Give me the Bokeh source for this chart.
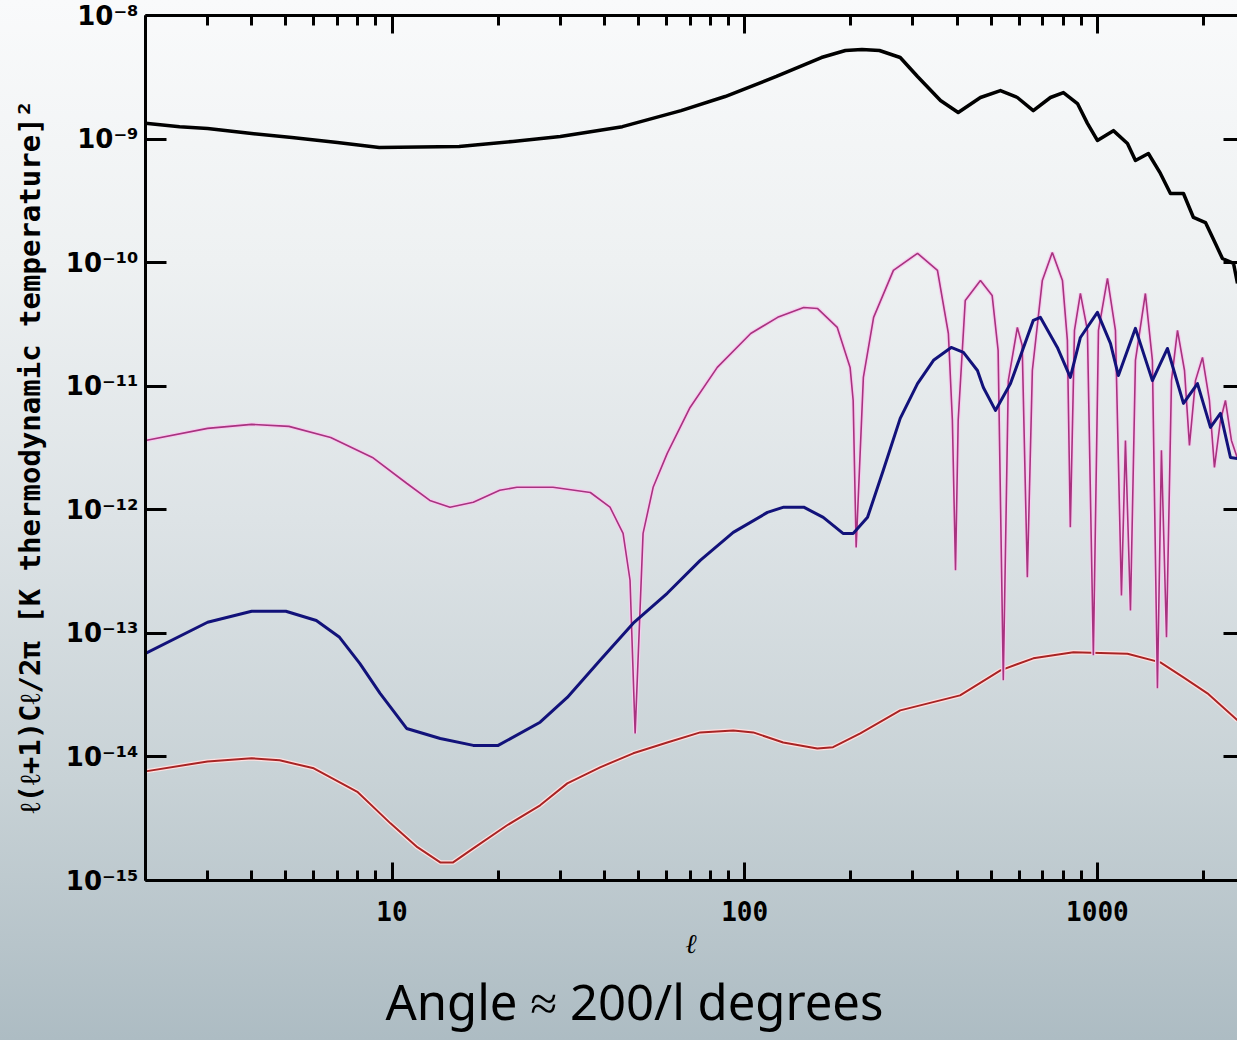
from bokeh.plotting import figure
from bokeh.models import Range1d, LogAxis, FixedTicker, CustomJSTickFormatter, Title
from bokeh.embed import file_html
from bokeh.resources import INLINE

# Angular power spectra, l(l+1)C_l/2pi in K^2
ell_tt = [2, 2.5, 3, 4, 5.2, 7, 9.2, 15.5, 22, 30, 45, 66, 88, 123, 165, 193, 215, 241, 276,
          309, 359, 403, 466, 531, 593, 658, 736, 801, 878, 937, 1000, 1110, 1217, 1282,
          1395, 1509, 1611, 1754, 1872, 2025, 2161, 2262, 2432, 2496]
cl_tt = [1.34e-9, 1.26e-9, 1.22e-9, 1.11e-9, 1.03e-9, 9.39e-10, 8.55e-10, 8.71e-10, 9.57e-10,
         1.05e-9, 1.26e-9, 1.70e-9, 2.21e-9, 3.21e-9, 4.57e-9, 5.21e-9, 5.30e-9, 5.21e-9,
         4.57e-9, 3.21e-9, 2.05e-9, 1.64e-9, 2.17e-9, 2.47e-9, 2.17e-9, 1.70e-9, 2.17e-9,
         2.38e-9, 1.94e-9, 1.34e-9, 9.75e-10, 1.17e-9, 9.21e-10, 6.71e-10, 7.64e-10, 5.27e-10,
         3.63e-10, 3.63e-10, 2.32e-10, 2.11e-10, 1.43e-10, 1.08e-10, 9.86e-11, 6.79e-11]

ell_te = [2, 3, 4, 5.1, 6.7, 8.8, 11, 12.8, 14.6, 17, 20.2, 22.6, 28.6, 36.5, 41.5, 45.2,
          47.3, 48.9, 51.5, 55, 60.3, 70, 83.6, 104, 124, 147, 161, 183, 199, 203, 207, 217,
          232, 264, 309, 352, 378, 388, 396, 403, 422, 466, 503, 523, 541, 559, 593, 612, 633,
          654, 698, 745, 796, 822, 838, 861, 895, 937, 974, 1007, 1068, 1125, 1170, 1201, 1241,
          1282, 1368, 1432, 1480, 1519, 1570, 1622, 1687, 1766, 1824, 1897, 1986, 2078, 2147,
          2233, 2307, 2399, 2496]
cl_te = [3.64e-12, 4.56e-12, 4.91e-12, 4.73e-12, 3.85e-12, 2.65e-12, 1.64e-12, 1.19e-12,
         1.05e-12, 1.15e-12, 1.44e-12, 1.52e-12, 1.52e-12, 1.38e-12, 1.05e-12, 6.44e-13,
         2.69e-13, 1.55e-14, 6.44e-13, 1.52e-12, 2.86e-12, 6.73e-12, 1.42e-11, 2.67e-11,
         3.61e-11, 4.34e-11, 4.25e-11, 2.99e-11, 1.42e-11, 7.67e-12, 4.96e-13, 1.18e-11,
         3.61e-11, 8.65e-11, 1.19e-10, 8.65e-11, 2.67e-11, 5.28e-12, 3.24e-13, 5.30e-12,
         4.94e-11, 7.18e-11, 5.43e-11, 1.95e-11, 4.17e-14, 1.11e-11, 2.99e-11, 2.14e-11,
         2.84e-13, 1.34e-11, 7.18e-11, 1.21e-10, 7.18e-11, 2.35e-11, 7.21e-13, 2.83e-11,
         5.63e-11, 2.83e-11, 6.64e-14, 2.83e-11, 7.45e-11, 2.83e-11, 2.03e-13, 3.64e-12,
         1.53e-13, 1.62e-11, 5.63e-11, 1.62e-11, 3.59e-14, 3.03e-12, 9.29e-14, 1.11e-11,
         2.83e-11, 1.34e-11, 3.32e-12, 1.11e-11, 1.71e-11, 7.67e-12, 2.20e-12, 5.28e-12,
         7.67e-12, 3.64e-12, 2.60e-12]

ell_ee = [2, 3, 4, 5, 6.1, 7.1, 8.1, 9.25, 11, 13.7, 17, 20, 26.3, 31.4, 38.9, 48.3, 60.3,
          74.8, 92.8, 116, 129, 147, 167, 190, 203, 223, 247, 276, 309, 343, 385, 417, 457,
          475, 514, 567, 658, 689, 770, 838, 895, 1000, 1089, 1147, 1282, 1432, 1580, 1754,
          1922, 2092, 2233, 2384, 2496]
cl_ee = [6.89e-14, 1.23e-13, 1.51e-13, 1.51e-13, 1.27e-13, 9.29e-14, 5.72e-14, 3.27e-14,
         1.70e-14, 1.41e-14, 1.24e-14, 1.24e-14, 1.91e-14, 3.03e-14, 6.05e-14, 1.21e-13,
         2.11e-13, 3.90e-13, 6.56e-13, 9.53e-13, 1.05e-12, 1.05e-12, 8.69e-13, 6.44e-13,
         6.44e-13, 8.69e-13, 2.08e-12, 5.49e-12, 1.05e-11, 1.62e-11, 2.06e-11, 1.88e-11,
         1.34e-11, 9.77e-12, 6.37e-12, 1.05e-11, 3.41e-11, 3.61e-11, 2.06e-11, 1.18e-11,
         2.48e-11, 3.96e-11, 2.22e-11, 1.22e-11, 2.94e-11, 1.11e-11, 2.02e-11, 7.26e-12,
         1.05e-11, 4.64e-12, 6.03e-12, 2.65e-12, 2.60e-12]

ell_bb = [2, 3, 4, 4.8, 6, 8, 9.9, 11.8, 13.7, 14.9, 17, 21.2, 26.3, 31.4, 38.9, 48.3, 60.3,
          74.8, 92.8, 105.7, 128.6, 160.6, 178, 212.7, 276, 408, 531, 658, 855, 1217, 1509,
          1754, 2051, 2496]
cl_bb = [7.64e-15, 9.20e-15, 9.75e-15, 9.39e-15, 8.09e-15, 5.18e-15, 2.90e-15, 1.86e-15,
         1.40e-15, 1.40e-15, 1.82e-15, 2.80e-15, 4.06e-15, 6.11e-15, 8.24e-15, 1.07e-14,
         1.31e-14, 1.58e-14, 1.64e-14, 1.58e-14, 1.31e-14, 1.17e-14, 1.20e-14, 1.55e-14,
         2.38e-14, 3.15e-14, 5.02e-14, 6.28e-14, 7.02e-14, 6.85e-14, 5.82e-14, 4.41e-14,
         3.27e-14, 1.98e-14]

x_major = [10, 100, 1000]
x_minor = [2, 3, 4, 5, 6, 7, 8, 9, 20, 30, 40, 50, 60, 70, 80, 90,
           200, 300, 400, 500, 600, 700, 800, 900, 2000]
y_major = [1e-15, 1e-14, 1e-13, 1e-12, 1e-11, 1e-10, 1e-9, 1e-8]

p = figure(width=1237, height=1040, x_axis_type="log", y_axis_type="log",
           x_range=Range1d(2, 2496), y_range=Range1d(1e-15, 1e-8),
           output_backend="svg", toolbar_location=None,
           min_border_left=145, min_border_right=0, min_border_top=15, min_border_bottom=160)
p.border_fill_color = None
p.background_fill_color = None
p.outline_line_color = None
p.grid.visible = False
p.styles = {"background": "linear-gradient(180deg, #f9fafb 0%, #eef1f2 25%, #dde3e6 50%, "
                          "#c8d2d6 75%, #adbcc3 100%)"}

xt = FixedTicker(ticks=x_major, minor_ticks=x_minor)
yt = FixedTicker(ticks=y_major, minor_ticks=[])

sup_js = """
const sup = {"-": "\u207b", "0": "\u2070", "1": "\u00b9", "2": "\u00b2", "3": "\u00b3",
             "4": "\u2074", "5": "\u2075", "6": "\u2076", "7": "\u2077", "8": "\u2078",
             "9": "\u2079"};
const e = Math.round(Math.log10(tick));
return "10" + String(e).split("").map(c => sup[c]).join("");
"""
blank = CustomJSTickFormatter(code="return '';")


def style_axis(ax, tick_len, minor_len):
    ax.axis_line_width = 3
    ax.axis_line_color = "black"
    ax.major_tick_in = tick_len
    ax.major_tick_out = 0
    ax.minor_tick_in = minor_len
    ax.minor_tick_out = 0
    ax.major_tick_line_width = 3
    ax.minor_tick_line_width = 3
    ax.major_tick_line_color = "black"
    ax.minor_tick_line_color = "black"


xa = p.xaxis[0]
xa.ticker = xt
style_axis(xa, 18, 10)
xa.formatter = CustomJSTickFormatter(code="return String(Math.round(tick));")
xa.major_label_text_font = "DejaVu Sans Mono"
xa.major_label_text_font_style = "bold"
xa.major_label_text_font_size = "26px"
xa.major_label_text_color = "black"
xa.major_label_standoff = 20
xa.axis_label = "ℓ"
xa.axis_label_text_font = "DejaVu Serif"
xa.axis_label_text_font_style = "bold italic"
xa.axis_label_text_font_size = "27px"
xa.axis_label_text_color = "black"
xa.axis_label_standoff = 4

ya = p.yaxis[0]
ya.ticker = yt
style_axis(ya, 21, 0)
ya.formatter = CustomJSTickFormatter(code=sup_js)
ya.major_label_text_font = "DejaVu Sans"
ya.major_label_text_font_style = "bold"
ya.major_label_text_font_size = "26px"
ya.major_label_text_color = "black"
ya.major_label_standoff = 7
ya.axis_label = "ℓ(ℓ+1)Cℓ/2π [K thermodynamic temperature]² "
ya.axis_label_text_font = "DejaVu Sans Mono"
ya.axis_label_text_font_style = "bold"
ya.axis_label_text_font_size = "29px"
ya.axis_label_text_color = "black"
ya.axis_label_standoff = 16

top = LogAxis(ticker=xt, formatter=blank, major_label_text_font_size="1px",
              major_label_standoff=0)
style_axis(top, 18, 10)
p.add_layout(top, "above")

right = LogAxis(ticker=yt, formatter=blank, major_label_text_font_size="1px",
                major_label_standoff=0)
style_axis(right, 14, 0)
right.axis_line_color = None
p.add_layout(right, "right")

# B-mode polarization
p.line(ell_bb, cl_bb, line_color="#ffe0e0", line_width=4.5, line_join="round")
p.line(ell_bb, cl_bb, line_color="#a82424", line_width=2, line_join="round")
# temperature-polarization cross spectrum (absolute value)
p.line(ell_te, cl_te, line_color="#f6cdef", line_width=4)
p.line(ell_te, cl_te, line_color="#a8327f", line_width=1.6)
# E-mode polarization
p.line(ell_ee, cl_ee, line_color="#12127a", line_width=3, line_join="round")
# temperature
p.line(ell_tt, cl_tt, line_color="black", line_width=3.5, line_join="round")

p.add_layout(Title(text="Angle ≈ 200/l degrees", align="left", offset=240,
                   text_font="Noto Sans", text_font_size="49px", text_font_style="normal",
                   text_color="black", standoff=9), "below")

open("out.html", "w").write(file_html(p, INLINE))
